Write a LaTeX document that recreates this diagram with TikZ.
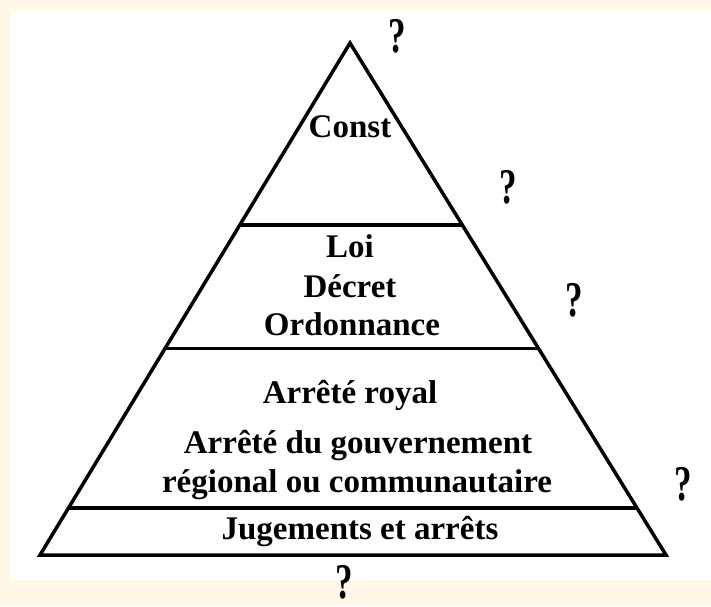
\documentclass[tikz,border=0pt]{standalone}
\usepackage{fontspec}
\setmainfont{Liberation Serif}
\usetikzlibrary{calc}
\definecolor{creme}{RGB}{255,248,232}
\tikzset{
  stufe/.style={anchor=base, font=\bfseries\fontsize{33}{33}\selectfont},
  frage/.style={anchor=base, inner sep=0pt, font=\bfseries\fontsize{50}{50}\selectfont},
  kante/.style={line width=3.5pt}
}
\begin{document}
\begin{tikzpicture}[x=1pt,y=-1pt]
        % Hintergrund
        \fill[creme] (0,0) rectangle (711,606);
        \fill[white] (10,11) rectangle (711,580);
        % Pyramide
        \coordinate (spitze) at (350,43);
        \coordinate (links) at (40,555);
        \coordinate (rechts) at (666,555);
        \draw[kante] (spitze) -- (rechts) -- (links) -- cycle;
        \foreach \t in {0.355,0.597,0.908}
            \draw[kante] ($(spitze)!\t!(links)$) -- ($(spitze)!\t!(rechts)$);
        % Beschriftung
        \node[stufe] (const) at (350,137) {Const};
        \node[stufe] (loi) at (350,257) {Loi};
        \node[stufe] (decret) at (350,297) {Décret};
        \node[stufe] (ordonnance) at (352,335) {Ordonnance};
        \node[stufe] (royal) at (350,403) {Arrêté royal};
        \node[stufe] (gouv) at (358,453) {Arrêté du gouvernement};
        \node[stufe] (regional) at (357,492) {régional ou communautaire};
        \node[stufe] (jugements) at (360,539) {Jugements et arrêts};
        % Fragezeichen
        \node[frage] (f1) at (397,52) {\scalebox{0.7}[1]{?}};
        \node[frage] (f2) at (508,203) {\scalebox{0.7}[1]{?}};
        \node[frage] (f3) at (574,316) {\scalebox{0.7}[1]{?}};
        \node[frage] (f4) at (683,500) {\scalebox{0.7}[1]{?}};
        \node[frage] (f5) at (344,598) {\scalebox{0.7}[1]{?}};
\end{tikzpicture}
\end{document}
